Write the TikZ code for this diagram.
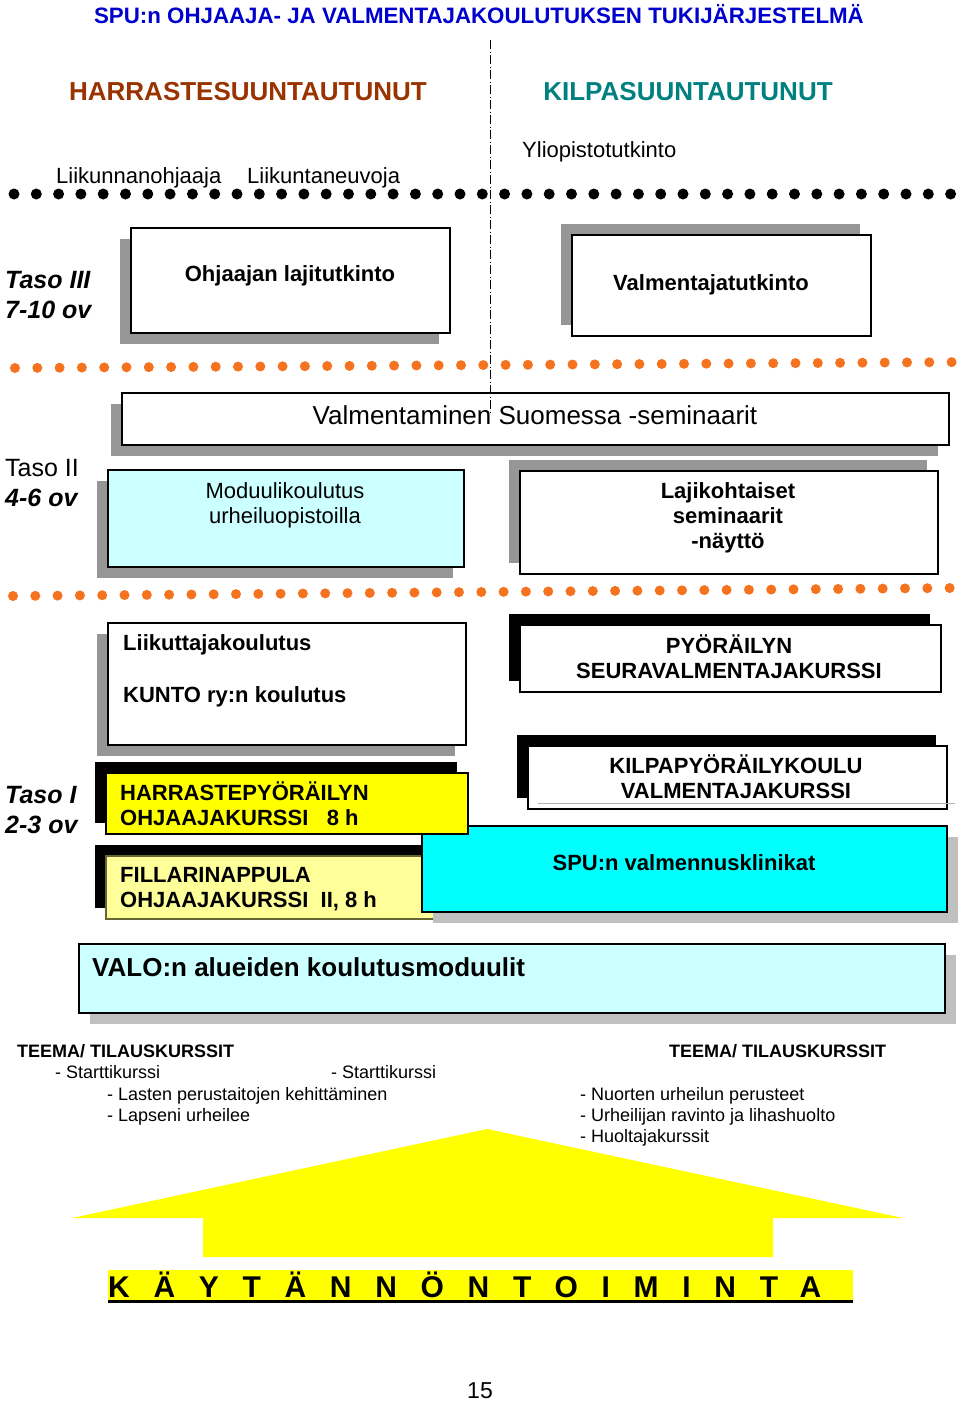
\documentclass[tikz,border=0pt]{standalone}
\usepackage{fontspec}
\setmainfont{Liberation Sans}
\usetikzlibrary{shadows}

\definecolor{titleblue}{RGB}{0,0,204}
\definecolor{hbrown}{RGB}{153,51,0}
\definecolor{kteal}{RGB}{0,128,128}
\definecolor{dotorange}{RGB}{245,115,30}
\definecolor{shadowgray}{RGB}{150,150,150}
\definecolor{lightshadow}{RGB}{192,192,192}
\definecolor{palecyan}{RGB}{204,255,255}
\definecolor{brightcyan}{RGB}{0,255,255}
\definecolor{brightyellow}{RGB}{255,255,0}
\definecolor{paleyellow}{RGB}{255,255,153}
\definecolor{fillborder}{RGB}{102,102,51}

\tikzset{
  box/.style={draw=black, line width=1.5pt, inner sep=0pt, anchor=north west},
  grayshadowdown/.style={drop shadow={shadow xshift=-11pt, shadow yshift=-11pt, fill=shadowgray, opacity=1}},
  grayshadowup/.style={drop shadow={shadow xshift=-11pt, shadow yshift=11pt, fill=shadowgray, opacity=1}},
  blackshadowup/.style={drop shadow={shadow xshift=-11pt, shadow yshift=11pt, fill=black, opacity=1}},
  lightshadowright/.style={drop shadow={shadow xshift=11pt, shadow yshift=-11pt, fill=lightshadow, opacity=1}},
  txt/.style={inner sep=0pt, font=\fontsize{22pt}{25pt}\selectfont},
  btxt/.style={inner sep=0pt, font=\fontsize{22pt}{25pt}\selectfont\bfseries},
  headtxt/.style={inner sep=0pt, anchor=base, font=\fontsize{26pt}{30pt}\selectfont\bfseries},
  tasotxt/.style={inner sep=0pt, anchor=base west, align=left, font=\fontsize{25pt}{30pt}\selectfont\bfseries\itshape},
  listtxt/.style={inner sep=0pt, anchor=base west, font=\fontsize{18pt}{21pt}\selectfont},
}

\begin{document}
\begin{tikzpicture}[x=1pt,y=-1pt]
    % Page
    \fill[white] (0,0) rectangle (960,1401);
    \useasboundingbox (0,0) rectangle (960,1401);

    % Headings
    \node[inner sep=0pt, anchor=base, text=titleblue, font=\fontsize{22.3pt}{26pt}\selectfont\bfseries] (title) at (479,23) {SPU:n OHJAAJA- JA VALMENTAJAKOULUTUKSEN TUKIJÄRJESTELMÄ};
    \node[headtxt, text=hbrown] (harrastus) at (248,100) {HARRASTESUUNTAUTUNUT};
    \node[headtxt, text=kteal] (kilpailu) at (688,100) {KILPASUUNTAUTUNUT};
    \node[txt, anchor=base west] (yliopisto) at (522,157) {Yliopistotutkinto};
    \node[txt, anchor=base west] (liikohj) at (56,183) {Liikunnanohjaaja};
    \node[txt, anchor=base west] (liikneuv) at (247,183) {Liikuntaneuvoja};

    % Dotted level borders
    \foreach \i in {0,...,42}
      \fill (14+\i*22.3,194) circle (5.5pt);
    \foreach \i in {0,...,42}
      \fill[dotorange] (15+\i*22.3,368-\i*0.14) circle (5pt);
    \foreach \i in {0,...,42}
      \fill[dotorange] (13+\i*22.3,596-\i*0.19) circle (5pt);

    % Taso III
    \node[tasotxt] (taso3) at (5,318) {Taso III\\7-10 ov};
    \node[box, fill=white, grayshadowdown, minimum width=319pt, minimum height=105pt] (ohjbox) at (130,227) {};
    \node[btxt, anchor=base] (ohjtxt) at (290,281) {Ohjaajan lajitutkinto};
    \node[box, fill=white, grayshadowup, minimum width=299pt, minimum height=101pt] (valmbox) at (571,234) {};
    \node[btxt, anchor=base] (valmtxt) at (711,290) {Valmentajatutkinto};

    % Taso II
    \node[tasotxt] (taso2) at (5,506) {{\mdseries\upshape Taso II}\\4-6 ov};
    \node[box, fill=white, grayshadowdown, minimum width=827pt, minimum height=52pt] (sembox) at (121,392) {};
    \node[inner sep=0pt, anchor=base, font=\fontsize{26pt}{30pt}\selectfont] (semtxt) at (535,424) {Valmentaminen Suomessa -seminaarit};
    \node[box, fill=palecyan, grayshadowdown, minimum width=356pt, minimum height=97pt] (modubox) at (107,469) {};
    \node[txt, anchor=base, align=center] (modutxt) at (285,523) {Moduulikoulutus\\urheiluopistoilla};
    \node[box, fill=white, grayshadowup, minimum width=418pt, minimum height=103pt] (lajibox) at (519,470) {};
    \node[btxt, anchor=base, align=center] (lajitxt) at (728,548) {Lajikohtaiset\\seminaarit\\-näyttö};

    % Divider between the two directions
    \draw[line width=1pt, dash pattern=on 9pt off 2.5pt on 1pt off 2.5pt] (490,40) -- (490,413);

    % Taso I
    \node[box, fill=white, grayshadowdown, minimum width=358pt, minimum height=122pt] (liikbox) at (107,622) {};
    \node[btxt, anchor=base west, align=left] (liiktxt) at (123,702) {Liikuttajakoulutus\\[27pt]KUNTO ry:n koulutus};
    \node[box, fill=white, blackshadowup, minimum width=421pt, minimum height=67pt] (pyorbox) at (519,624) {};
    \node[btxt, anchor=base, align=center] (pyortxt) at (729,678) {PYÖRÄILYN\\SEURAVALMENTAJAKURSSI};
    \node[box, fill=white, blackshadowup, minimum width=419pt, minimum height=63pt] (kilpabox) at (527,745) {};
    \draw[gray!60, line width=0.8pt] (538,803) -- (955,803);
    \node[btxt, anchor=base, align=center] (kilpatxt) at (736,798) {KILPAPYÖRÄILYKOULU\\VALMENTAJAKURSSI};
    \node[tasotxt] (taso1) at (5,833) {Taso I\\2-3 ov};
    \node[box, draw=fillborder, fill=paleyellow, blackshadowup, minimum width=337pt, minimum height=63pt] (fillbox) at (105,855) {};
    \node[btxt, anchor=base west, align=left] (filltxt) at (120,907) {FILLARINAPPULA\\OHJAAJAKURSSI\ \ II, 8 h};
    \node[box, fill=brightcyan, lightshadowright, minimum width=525pt, minimum height=86pt] (klinbox) at (421,825) {};
    \node[btxt, anchor=base] (klintxt) at (684,870) {SPU:n valmennusklinikat};
    \node[box, fill=brightyellow, blackshadowup, minimum width=362pt, minimum height=61pt] (harrbox) at (105,772) {};
    \node[btxt, anchor=base west, align=left] (harrtxt) at (120,825) {HARRASTEPYÖRÄILYN\\OHJAAJAKURSSI\ \ \ 8 h};

    % VALO
    \node[box, fill=palecyan, lightshadowright, minimum width=866pt, minimum height=69pt] (valobox) at (78,943) {};
    \node[inner sep=0pt, anchor=base west, font=\fontsize{26pt}{30pt}\selectfont\bfseries] (valotxt) at (92,976) {VALO:n alueiden koulutusmoduulit};

    % Teema- ja tilauskurssit
    \node[listtxt, font=\fontsize{18pt}{21pt}\selectfont\bfseries] (teemavas) at (17,1057) {TEEMA/ TILAUSKURSSIT};
    \node[listtxt, font=\fontsize{18pt}{21pt}\selectfont\bfseries] (teemaoik) at (669,1057) {TEEMA/ TILAUSKURSSIT};
    \node[listtxt] (start1) at (55,1078) {- Starttikurssi};
    \node[listtxt] (start2) at (331,1078) {- Starttikurssi};
    \node[listtxt] (lasten) at (107,1100) {- Lasten perustaitojen kehittäminen};
    \node[listtxt] (lapseni) at (107,1121) {- Lapseni urheilee};
    \node[listtxt] (nuorten) at (580,1100) {- Nuorten urheilun perusteet};
    \node[listtxt] (ravinto) at (580,1121) {- Urheilijan ravinto ja lihashuolto};
    \node[listtxt] (huolto) at (580,1142) {- Huoltajakurssit};

    % Big yellow arrow
    \fill[brightyellow] (487,1129) -- (903,1218) -- (773,1218) -- (773,1257) -- (203,1257) -- (203,1218) -- (72,1218) -- cycle;

    % Kaytannon toiminta
    \fill[brightyellow] (108,1270) rectangle (853,1300);
    \draw[line width=3pt] (108,1301) -- (853,1301);
    \node[inner sep=0pt, anchor=base west, font=\fontsize{30pt}{30pt}\selectfont\bfseries\addfontfeature{LetterSpace=79}] (toiminta) at (108,1297) {KÄYTÄNNÖNTOIMINTA};

    % Page number
    \node[inner sep=0pt, anchor=base, font=\fontsize{23pt}{26pt}\selectfont] (sivu) at (480,1398) {15};
\end{tikzpicture}
\end{document}
